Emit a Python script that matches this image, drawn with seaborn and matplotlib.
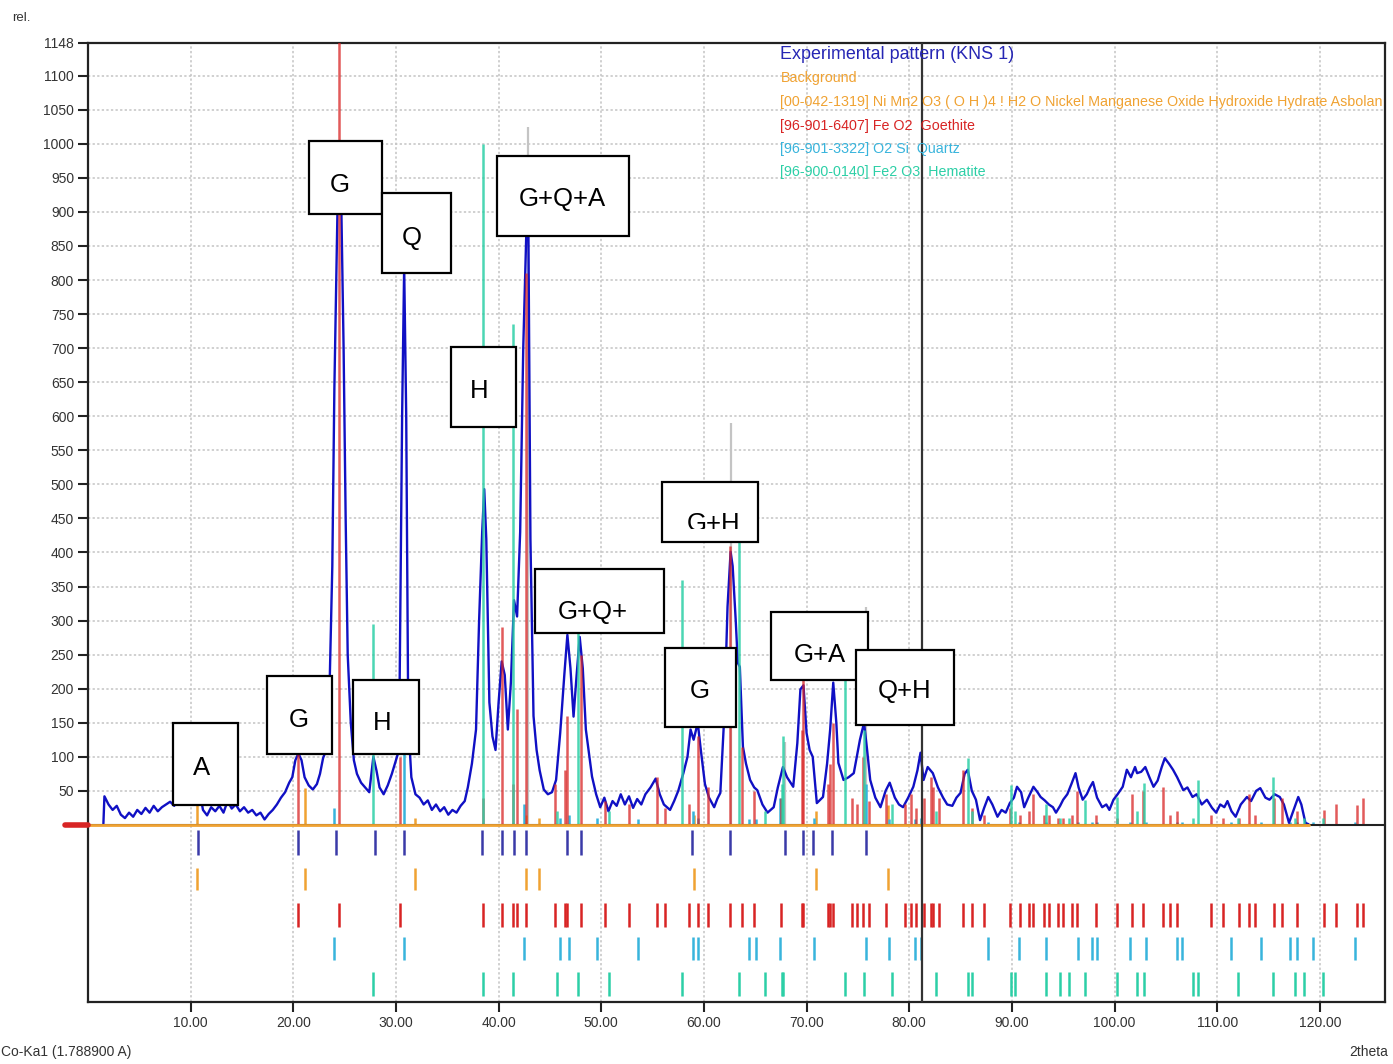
import matplotlib
matplotlib.use("Agg")
import matplotlib.pyplot as plt
from matplotlib.patches import Rectangle
from matplotlib.transforms import Bbox, TransformedBbox
import seaborn as sns

# experimental pattern (2theta, rel. intensity)
exp_2theta = [1.5, 1.6, 2.0, 2.4, 2.8, 3.2, 3.6, 4.0, 4.4, 4.8, 5.2, 5.6, 6.0, 6.4, 6.8, 7.2, 7.6, 8.0, 8.4, 8.7,
              9.0, 9.4, 9.8, 10.2, 10.6, 10.9, 11.2, 11.6, 12.0, 12.4, 12.8, 13.2, 13.6, 14.0, 14.4, 14.8, 15.2, 15.6,
              16.0, 16.4, 16.8, 17.2, 17.6, 18.0, 18.4, 18.8, 19.2, 19.6, 19.9, 20.2, 20.5, 20.8, 21.1, 21.5, 21.9,
              22.3, 22.6, 22.9, 23.2, 23.5, 23.8, 24.0, 24.3, 24.6, 24.9, 25.1, 25.3, 25.6, 25.9, 26.2, 26.6, 27.0,
              27.4, 27.8, 28.1, 28.4, 28.8, 29.2, 29.6, 30.0, 30.3, 30.6, 30.8, 31.0, 31.2, 31.5, 31.9, 32.3, 32.7,
              33.1, 33.5, 33.9, 34.3, 34.7, 35.1, 35.5, 35.9, 36.3, 36.7, 37.0, 37.4, 37.8, 38.1, 38.4, 38.6, 38.8,
              39.1, 39.4, 39.7, 40.0, 40.3, 40.6, 40.9, 41.2, 41.5, 41.8, 42.1, 42.4, 42.7, 42.9, 43.1, 43.4, 43.7,
              44.0, 44.4, 44.8, 45.2, 45.6, 46.0, 46.4, 46.7, 47.0, 47.3, 47.6, 47.9, 48.2, 48.5, 49.1, 49.5, 49.9,
              50.3, 50.7, 51.1, 51.5, 51.9, 52.3, 52.7, 53.1, 53.5, 53.9, 54.3, 54.8, 55.3, 55.7, 56.1, 56.7, 57.1,
              57.5, 58.0, 58.4, 58.7, 59.0, 59.4, 59.7, 60.1, 60.5, 61.0, 61.3, 61.6, 62.0, 62.3, 62.6, 62.8, 63.1,
              63.3, 63.5, 63.8, 64.1, 64.5, 64.9, 65.2, 65.7, 66.2, 66.8, 67.2, 67.7, 68.1, 68.7, 69.1, 69.4, 69.7,
              70.0, 70.3, 70.6, 71.0, 71.6, 72.0, 72.3, 72.6, 72.9, 73.1, 73.6, 74.1, 74.6, 75.2, 75.6, 75.9, 76.2,
              76.7, 77.2, 77.7, 78.1, 78.6, 79.0, 79.4, 79.9, 80.4, 80.8, 81.1, 81.4, 81.8, 82.3, 82.8, 83.3, 83.7,
              84.2, 84.6, 85.0, 85.4, 85.7, 86.1, 86.5, 86.9, 87.3, 87.7, 88.1, 88.6, 89.0, 89.4, 89.8, 90.2, 90.5,
              90.9, 91.2, 91.6, 92.1, 92.5, 92.8, 93.2, 93.6, 94.0, 94.3, 94.7, 95.0, 95.4, 95.8, 96.2, 96.5, 96.9,
              97.3, 97.6, 97.9, 98.3, 98.8, 99.2, 99.5, 99.9, 100.3, 100.8, 101.2, 101.6, 102.0, 102.2, 102.6, 103.0,
              103.4, 103.8, 104.2, 104.6, 104.9, 105.3, 105.7, 106.1, 106.7, 107.1, 107.6, 108.0, 108.5, 109.0,
              109.5, 109.9, 110.3, 110.7, 111.0, 111.4, 111.8, 112.3, 112.9, 113.3, 113.8, 114.2, 114.7, 115.1,
              115.6, 116.1, 116.5, 117.0, 117.4, 117.9, 118.2, 118.6, 118.9]
exp_counts = [2, 42, 30, 22, 28, 15, 10, 18, 12, 22, 16, 25, 18, 28, 20, 26, 30, 34, 28, 42,
              32, 38, 30, 36, 30, 48, 22, 14, 26, 20, 28, 18, 35, 24, 30, 20, 26, 18,
              22, 14, 18, 8, 16, 22, 30, 40, 48, 62, 70, 95, 105, 95, 70, 58, 52,
              60, 75, 98, 110, 180, 380, 640, 900, 980, 700, 450, 250, 150, 95, 75, 62, 55,
              48, 100, 80, 55, 45, 58, 75, 95, 110, 600, 820, 600, 150, 70, 45, 40, 30,
              36, 22, 30, 20, 26, 15, 22, 18, 28, 35, 55, 90, 140, 300, 430, 493, 420,
              180, 130, 110, 180, 240, 220, 140, 210, 330, 306, 430, 700, 870, 880, 420, 160, 110,
              80, 52, 45, 48, 66, 135, 220, 279, 230, 159, 220, 276, 230, 140, 71, 45, 26,
              40, 20, 35, 28, 45, 30, 42, 25, 38, 30, 45, 55, 68, 45, 30, 22, 35,
              50, 76, 100, 140, 125, 150, 110, 60, 40, 26, 38, 47, 165, 320, 401, 380, 300,
              238, 232, 115, 90, 66, 55, 51, 30, 18, 26, 55, 85, 70, 56, 120, 199, 205,
              135, 110, 100, 32, 41, 90, 140, 209, 150, 91, 66, 70, 76, 125, 150, 110, 66,
              40, 26, 50, 62, 40, 30, 26, 40, 56, 80, 106, 66, 85, 76, 55, 40, 30,
              28, 40, 47, 75, 81, 50, 37, 7, 25, 41, 30, 12, 22, 18, 32, 40, 56,
              48, 26, 40, 56, 48, 41, 36, 30, 26, 18, 28, 37, 45, 60, 76, 55, 37,
              45, 55, 63, 40, 26, 30, 22, 37, 45, 56, 81, 70, 85, 76, 78, 85,
              70, 56, 65, 85, 98, 90, 81, 70, 51, 55, 41, 45, 30, 37,
              25, 18, 30, 26, 35, 20, 12, 30, 41, 35, 50, 54, 40, 37,
              45, 41, 30, 3, 20, 41, 30, 3, 1]

# peak list of the experimental pattern
peak_2theta = [10.7, 20.5, 24.2, 28.0, 30.8, 38.4, 40.3, 41.5, 42.7, 46.7, 48.0, 58.8, 62.5, 67.9,
               69.7, 70.6, 72.5, 75.8]
grey_2theta = [42.9, 62.6, 67.9, 75.8]
grey_height = [1025, 590, 121, 320]

# Asbolan
asbolan_2theta = [10.6, 21.1, 31.9, 42.7, 43.9, 59.0, 70.9, 77.9]
asbolan_height = [47, 54, 10, 15, 10, 15, 20, 29]

# Goethite
goethite_2theta = [20.5, 24.5, 30.4, 38.5, 40.3, 41.4, 41.8, 42.7, 45.5, 46.5, 46.7, 48.0, 50.4, 52.7,
                   55.4, 56.2, 58.5, 59.4, 60.4, 62.5, 63.7, 64.9, 67.5, 69.6, 69.7, 72.1, 72.3, 72.6,
                   74.4, 74.9, 75.5, 76.1, 77.7, 79.6, 80.2, 80.7, 81.4, 82.1, 82.3, 82.9, 85.2, 86.1,
                   87.3, 89.8, 90.8, 91.7, 92.1, 93.1, 93.6, 94.5, 95.0, 95.9, 96.3, 98.2, 100.2, 101.7,
                   102.8, 104.7, 105.4, 106.1, 109.4, 110.6, 112.1, 113.1, 113.7, 115.5, 116.3, 117.8,
                   120.4, 121.6, 123.6, 124.2]
goethite_height = [105, 1200, 100, 40, 290, 60, 170, 811, 60, 80, 160, 250, 35, 30,
                   70, 25, 30, 130, 55, 410, 115, 50, 40, 140, 215, 60, 90, 150,
                   40, 30, 100, 35, 45, 30, 45, 25, 40, 70, 55, 40, 80, 25,
                   15, 25, 15, 20, 45, 15, 15, 10, 10, 15, 50, 15, 10, 45,
                   50, 55, 15, 20, 15, 10, 10, 45, 15, 40, 40, 20,
                   22, 30, 29, 40]

# Quartz
quartz_2theta = [24.0, 30.8, 42.5, 46.0, 46.9, 49.6, 53.6, 58.9, 59.4, 64.4, 65.1, 67.4, 70.7, 75.8,
                 78.0, 80.6, 81.1, 87.7, 90.7, 93.3, 96.4, 97.8, 98.3, 101.5, 103.1, 106.1, 106.6,
                 111.3, 114.3, 117.1, 117.8, 119.3, 123.4]
quartz_height = [25, 110, 30, 10, 15, 10, 8, 20, 10, 8, 8, 40, 10, 60,
                 8, 8, 10, 5, 5, 5, 5, 5, 5, 5, 5, 5, 5,
                 5, 5, 5, 5, 5, 5]

# Hematite
hematite_2theta = [27.8, 38.5, 41.4, 45.7, 47.7, 50.8, 57.9, 63.4, 66.0, 67.6, 67.7, 73.7, 75.6, 78.3,
                   82.6, 85.7, 86.1, 89.9, 90.3, 93.3, 94.7, 95.6, 97.1, 100.2, 102.2, 102.9, 107.6,
                   108.1, 112.0, 115.4, 117.6, 118.5, 120.3]
hematite_height = [295, 1000, 735, 20, 330, 20, 360, 420, 20, 60, 130, 215, 140, 30,
                   20, 98, 20, 59, 20, 30, 10, 10, 37, 41, 20, 61, 10,
                   66, 10, 71, 10, 10, 10]

# phase labels on the peaks
labels = ["A", "G", "H", "G", "Q", "H", "G+Q+A", "G+Q+", "G", "G+H", "G+A", "Q+H"]

legend_lines = ["Experimental pattern (KNS 1)", "Background",
                "[00-042-1319] Ni Mn2 O3 ( O H )4 ! H2 O Nickel Manganese Oxide Hydroxide Hydrate Asbolan",
                "[96-901-6407] Fe O2  Goethite", "[96-901-3322] O2 Si  Quartz",
                "[96-900-0140] Fe2 O3  Hematite"]

c_exp = "#1010c4"
c_orange = "#f0a232"
c_red = "#d82424"
c_cyan = "#38b4dc"
c_green = "#2ccfa6"

sns.set_style("white")
plt.rcParams["font.family"] = ["Liberation Sans", "DejaVu Sans"]

W, H = 1393, 1064
fig = plt.figure(figsize=(W / 100, H / 100), dpi=100)
ax = fig.add_axes([88 / W, 1 - 1002 / H, (1385 - 88) / W, (1002 - 43) / H])

ax.set_xlim(0, 126.35)
ax.set_ylim(-260, 1148)

# grid
ax.set_xticks(range(10, 121, 10))
ax.set_xticklabels([f"{v:.2f}" for v in range(10, 121, 10)])
yt = list(range(50, 1101, 50)) + [1148]
ax.set_yticks(yt)
ax.set_yticklabels([str(v) for v in yt])
ax.grid(True, linestyle=(0, (1.5, 1.5)), color="#c4c4c4", linewidth=1.1)
ax.set_axisbelow(True)

# sticks in the pattern panel
ax.vlines(grey_2theta, 0, grey_height, color="#c4c4c4", lw=1.6, zorder=2)
ax.vlines(asbolan_2theta, 0, asbolan_height, color=c_orange, lw=1.8, zorder=2)
ax.vlines(quartz_2theta, 0, quartz_height, color=c_cyan, lw=1.8, zorder=2)

sns.lineplot(x=exp_2theta, y=exp_counts, ax=ax, color=c_exp, lw=1.7, sort=False, estimator=None, zorder=3)

ax.vlines(goethite_2theta, 0, goethite_height, color=c_red, lw=1.8, alpha=0.75, zorder=4)
ax.vlines(hematite_2theta, 0, hematite_height, color=c_green, lw=1.8, alpha=0.85, zorder=4)

# zero line, background and marker
ax.axhline(0, color="#222222", lw=1.5, zorder=5)
ax.plot([0, 118.9], [0, 0], color=c_orange, lw=2, zorder=5)
ax.plot([-2.25, 0], [0, 0], color=c_red, lw=4, clip_on=False, zorder=6)

# reference tick rows below the pattern
rows = [(peak_2theta, "#3a3aa8", -8, -44), (asbolan_2theta, c_orange, -63, -96),
        (goethite_2theta, c_red, -115, -150), (quartz_2theta, c_cyan, -165, -199),
        (hematite_2theta, c_green, -216, -251)]
for pos, col, y0, y1 in rows:
    ax.vlines(pos, y1, y0, color=col, lw=1.8, zorder=4)

ax.axvline(81.2, color="#333333", lw=1.6, zorder=6)

# label boxes: x0, x1, y0, y1 and text centre
boxes = [(8.25, 14.58, 29, 150, 11.05, 84), (17.40, 23.73, 104, 219, 20.5, 154),
         (25.77, 32.20, 104, 213, 28.68, 150), (21.49, 28.60, 897, 1004, 24.50, 940),
         (28.60, 35.32, 810, 928, 31.5, 862), (35.32, 41.74, 584, 701, 38.1, 637),
         (39.89, 52.75, 865, 982, 46.2, 919), (43.59, 56.15, 282, 375, 49.15, 313),
         (56.25, 63.16, 144, 260, 59.6, 197), (55.96, 65.31, 416, 503, 60.9, 442),
         (66.57, 76.02, 213, 313, 71.3, 249), (74.85, 84.39, 146, 257, 79.5, 196)]
for lab, (x0, x1, y0, y1, tx, ty) in zip(labels, boxes):
    ax.add_patch(Rectangle((x0, y0), x1 - x0, y1 - y0, facecolor="white", edgecolor="black",
                           lw=1.6, zorder=10))
    t = ax.text(tx, ty, lab, ha="center", va="center", fontsize=18.5, color="black", zorder=11)
    if lab == "G+H":
        # label text is cut by the lower part of its box
        t.set_clip_box(TransformedBbox(Bbox.from_extents(x0, 434, x1, y1), ax.transData))
        t.set_clip_on(True)

# legend text
leg_colors = ["#2626b4", c_orange, c_orange, c_red, c_cyan, c_green]
leg_y = [1131, 1096, 1062, 1026, 993, 959]
for i, (txt, col, yy) in enumerate(zip(legend_lines, leg_colors, leg_y)):
    ax.text(67.45, yy, txt, color=col, fontsize=12.9 if i == 0 else 10.3, ha="left", va="center",
            clip_on=True, zorder=7)

for s in ax.spines.values():
    s.set_color("#222222")
    s.set_linewidth(1.6)
ax.tick_params(axis="both", direction="out", length=7, width=1.5, color="#222222",
               labelsize=10, labelcolor="#333333", bottom=True, left=True, pad=3)
ax.set_xlabel("")
ax.set_ylabel("")

fig.text(12 / W, 1 - 18 / H, "rel.", fontsize=9.5, color="#333333", va="center")
fig.text(1 / W, 1 - 1052 / H, "Co-Ka1 (1.788900 A)", fontsize=10, color="#333333", va="center")
fig.text(1388 / W, 1 - 1052 / H, "2theta", fontsize=10, color="#333333", va="center", ha="right")

fig.savefig("out.png", dpi=100)
